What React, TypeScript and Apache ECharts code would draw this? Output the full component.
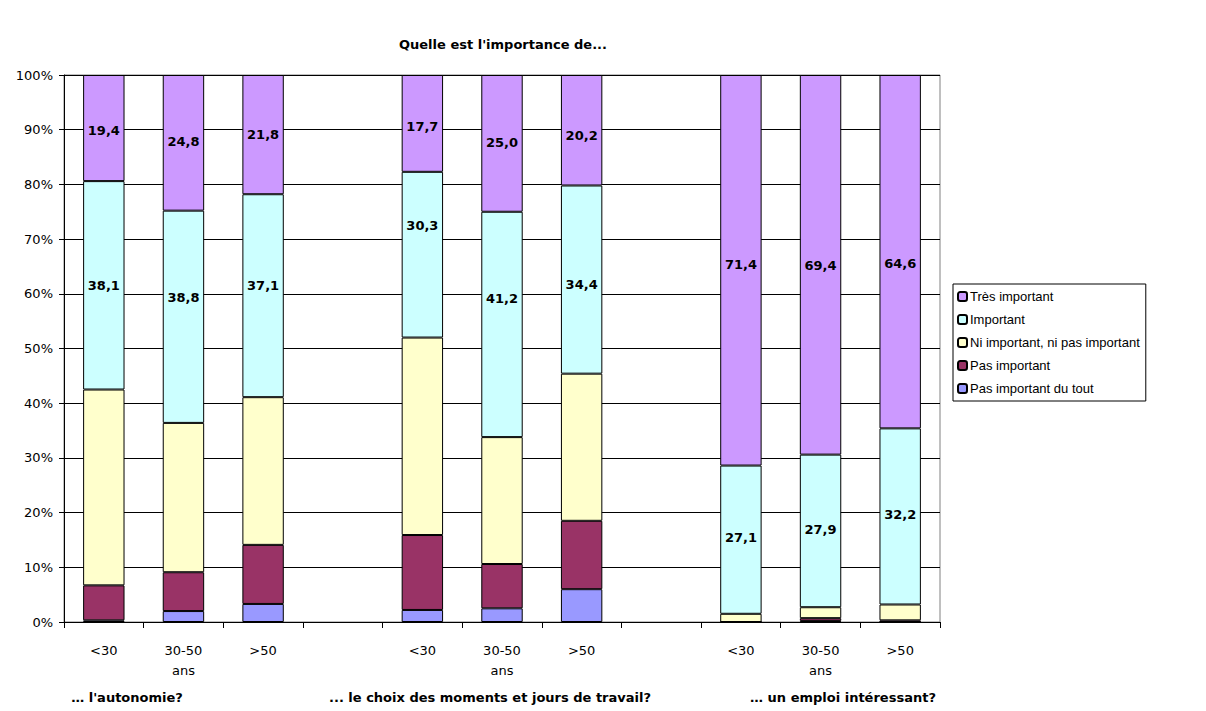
import React, { useEffect, useRef } from "react";
import * as echarts from "echarts";

const categories = ["<30", "30-50\nans", ">50", "", "<30", "30-50\nans", ">50", "", "<30", "30-50\nans", ">50"];
const groupLabels = ["… l'autonomie?", "... le choix des moments et jours de travail?", "… un emploi intéressant?"];
const seriesNames = ["Pas important du tout", "Pas important", "Ni important, ni pas important", "Important", "Très important"];

const pasDuTout = [0.3, 2.0, 3.3, null, 2.2, 2.5, 6.0, null, 0, 0.2, 0];
const pasImportant = [6.4, 7.1, 10.8, null, 13.7, 8.1, 12.5, null, 0, 0.5, 0.3];
const niNi = [35.8, 27.3, 27.0, null, 36.1, 23.2, 26.9, null, 1.5, 2.0, 2.9];
const important = [38.1, 38.8, 37.1, null, 30.3, 41.2, 34.4, null, 27.1, 27.9, 32.2];
const tresImportant = [19.4, 24.8, 21.8, null, 17.7, 25.0, 20.2, null, 71.4, 69.4, 64.6];

const colors = ["#9999FF", "#993366", "#FFFFCC", "#CCFFFF", "#CC99FF"];
// label nudges (px, up) to mimic source label placement
const importantNudge = [0, 19, 10, 0, 29, 26, -5, 0, 2, 1, 2];
const tresNudge = [-2, 1, 0, 0, -3, 1, -5, 0, 6, -1, -12];

const FONT = "DejaVu Sans, sans-serif";
const LFONT = "Liberation Sans, Arial, sans-serif";

export default function App() {
  const ref = useRef<HTMLDivElement>(null);
  useEffect(() => {
    document.body.style.margin = "0";
    const chart = echarts.init(ref.current!, null, { renderer: "svg" });
    const allData = [pasDuTout, pasImportant, niNi, important, tresImportant];
    const nudges: (number[] | null)[] = [null, null, null, importantNudge, tresNudge];
    const series = allData.map((arr, si) => ({
      name: seriesNames[si],
      type: "bar",
      stack: "total",
      barWidth: "52%",
      itemStyle: { color: colors[si], borderColor: "#000", borderWidth: 1 },
      label: {
        show: si >= 3,
        position: "inside",
        color: "#000",
        fontWeight: "bold",
        fontSize: 13,
        fontFamily: FONT,
        formatter: (p: any) => Number(p.value).toFixed(1).replace(".", ","),
      },
      data: arr.map((v, i) =>
        v == null
          ? "-"
          : nudges[si]
          ? { value: v, label: { offset: [0, -(nudges[si] as number[])[i]] } }
          : v
      ),
    }));
    chart.setOption({
      animation: false,
      textStyle: { fontFamily: FONT },
      grid: { left: 64, right: 266, top: 75, bottom: 89, show: true, borderColor: "#808080", borderWidth: 1 },
      legend: {
        orient: "vertical",
        left: 953,
        top: 284,
        data: [...seriesNames].reverse(),
        itemWidth: 9,
        itemHeight: 9,
        itemGap: 10,
        padding: [6, 6, 6, 4],
        borderColor: "#000",
        borderWidth: 1,
        textStyle: { fontSize: 13, color: "#000", fontFamily: LFONT, padding: [0, 0, 0, -2] },
      },
      xAxis: {
        type: "category",
        data: categories,
        axisLine: { lineStyle: { color: "#000" } },
        axisTick: { show: true, length: 6, lineStyle: { color: "#000" } },
        axisLabel: { color: "#000", fontSize: 13, fontFamily: FONT, margin: 18, lineHeight: 20, interval: 0 },
      },
      yAxis: {
        type: "value",
        min: 0,
        max: 100,
        interval: 10,
        axisLine: { show: true, lineStyle: { color: "#000" } },
        axisTick: { show: true, length: 5, lineStyle: { color: "#000" } },
        axisLabel: { color: "#000", fontSize: 13, fontFamily: FONT, formatter: "{value}%", margin: 11 },
        splitLine: { lineStyle: { color: "#000", width: 1 } },
      },
      graphic: [
        {
          type: "text",
          x: 503,
          y: 44,
          style: { text: "Quelle est l'importance de...", font: `bold 13px ${FONT}`, fill: "#000", textAlign: "center", textVerticalAlign: "middle" },
        },
        ...groupLabels.map((t, i) => ({
          type: "text",
          x: [127, 490, 843][i],
          y: 697,
          style: { text: t, font: `bold 13px ${FONT}`, fill: "#000", textAlign: "center", textVerticalAlign: "middle" },
        })),
      ],
      series,
    });
    return () => chart.dispose();
  }, []);
  return <div ref={ref} style={{ width: 1206, height: 711 }} />;
}
